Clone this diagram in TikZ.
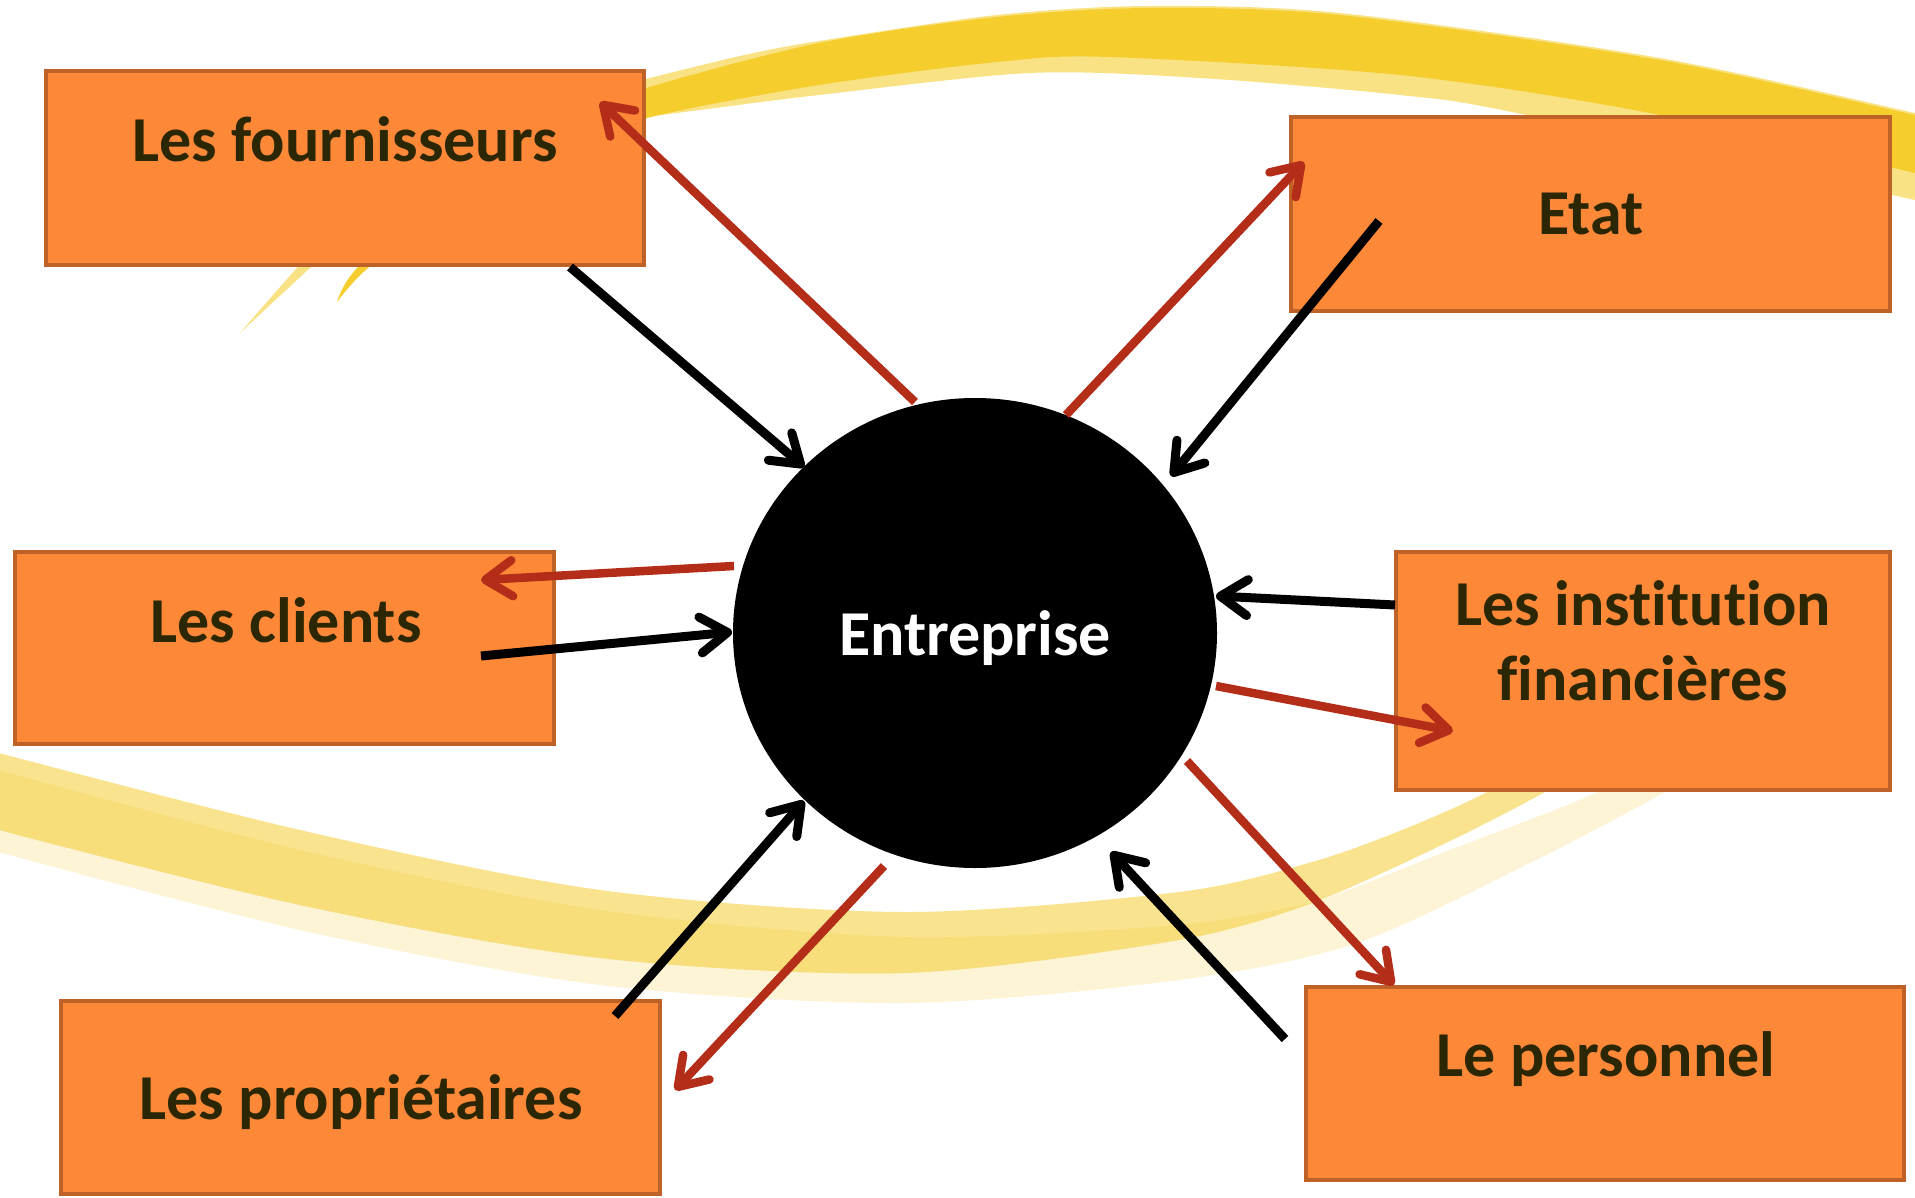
\documentclass[tikz,border=0pt]{standalone}
\usepackage{fontspec}
\setmainfont{Carlito}[Ligatures={NoCommon,NoContextual}]
\usetikzlibrary{arrows.meta,shapes.geometric}
\definecolor{boxfill}{RGB}{253,136,56}
\definecolor{boxline}{RGB}{190,98,40}
\definecolor{txt}{RGB}{43,38,3}
\definecolor{redarrow}{RGB}{180,45,25}
\definecolor{ydark}{RGB}{245,206,46}
\definecolor{ylight}{RGB}{249,226,131}
\definecolor{bandlight}{RGB}{249,227,142}
\definecolor{bandmed}{RGB}{247,222,122}
\definecolor{bandvlight}{RGB}{253,244,213}
\begin{document}
\begin{tikzpicture}[x=1pt,y=-1pt,
  actor/.style={draw=boxline, fill=boxfill, line width=4.5pt, rectangle, inner sep=0pt},
  lbl/.style={text=txt, font=\fontsize{64}{70}\selectfont\bfseries, anchor=base, inner sep=0pt},
  inarrow/.style={draw=black, line width=9pt, -{Straight Barb[length=27pt,width=36pt,round]}},
  outarrow/.style={draw=redarrow, line width=8.5pt, -{Straight Barb[length=27pt,width=36pt,round]}},
]
\useasboundingbox (0,0) rectangle (1915,1198);
\fill[white] (0,0) rectangle (1915,1198);

% ---------- background ribbons ----------
\begin{scope}
\clip (0,0) rectangle (1915,1198);
% top ribbon: light band under the dark band
\fill[ylight] plot[smooth] coordinates {(646,79) (740,56) (819,41) (997,15) (1149,6) (1340,13) (1660,58) (1915,113) (1945,120)}
  -- plot[smooth] coordinates {(1945,207) (1915,200) (1517,113) (1400,95) (1200,78) (1030,73) (819,95) (700,110) (646,117)} -- cycle;
% top ribbon: dark band
\fill[ydark] plot[smooth] coordinates {(337,302) (357,268) (450,180) (560,120) (646,88) (819,43) (997,17) (1149,8) (1340,15) (1660,60) (1915,115) (1945,121)}
  -- plot[smooth] coordinates {(1945,179) (1915,173) (1650,113) (1400,75) (1109,57) (997,62) (819,85) (647,118) (560,152) (450,208) (368,268) (337,302)} -- cycle;
% top ribbon: light tail
\fill[ylight] plot[smooth] coordinates {(240,333) (297,268) (340,225)}
  -- plot[smooth] coordinates {(355,228) (310,268) (240,333)} -- cycle;

% bottom ribbon: very light band
\fill[bandvlight] plot[smooth] coordinates {(-20,825) (300,905) (600,958) (904,973) (1179,940) (1312,903) (1450,850) (1598,792) (1660,752)}
  -- plot[smooth] coordinates {(1730,752) (1665,792) (1536,860) (1357,943) (1179,980) (904,1003) (600,985) (300,930) (-20,847)} -- cycle;
% bottom ribbon: light band
\fill[bandlight] plot[smooth] coordinates {(-20,748) (300,830) (600,890) (904,912) (1179,892) (1312,862) (1402,830) (1487,792) (1545,752)}
  -- plot[smooth] coordinates {(1610,752) (1545,792) (1446,843) (1312,903) (1179,940) (904,973) (600,958) (300,905) (-20,825)} -- cycle;
% bottom ribbon: medium band
\fill[bandmed] plot[smooth] coordinates {(-20,765) (300,850) (600,910) (904,937) (1179,925) (1312,903)}
  -- plot[smooth] coordinates {(1312,903) (1179,940) (904,973) (600,958) (300,905) (-20,825)} -- cycle;
\end{scope}

% ---------- boxes ----------
\node[actor, minimum width=598pt, minimum height=194pt] (fourn) at (345,168) {};
\node[actor, minimum width=599pt, minimum height=194pt] (etat) at (1590.5,214) {};
\node[actor, minimum width=539pt, minimum height=192pt] (clients) at (284.5,648) {};
\node[actor, minimum width=494pt, minimum height=238pt] (instit) at (1643,671) {};
\node[actor, minimum width=599pt, minimum height=193pt] (propr) at (360.5,1097.5) {};
\node[actor, minimum width=598pt, minimum height=193pt] (pers) at (1605,1083.5) {};

\node[lbl] (fournT) at (345,162) {Les fournisseurs};
\node[lbl] (etatT) at (1591,235) {Etat};
\node[lbl] (clientsT) at (286,642) {Les clients};
\node[lbl] (institT) at (1643,625) {Les institution};
\node[lbl] (institT2) at (1643,700) {financières};
\node[lbl] (proprT) at (361,1119) {Les propriétaires};
\node[lbl] (persT) at (1606,1076) {Le personnel};

% ---------- centre ----------
\node[ellipse, fill=black, minimum width=484pt, minimum height=470pt, inner sep=0pt] (ent) at (975,633) {};
\node[lbl, text=white] (entT) at (975,655) {Entreprise};

% ---------- connector end points ----------
\coordinate (bF1) at (570,267);  \coordinate (bF2) at (804,467);
\coordinate (bE1) at (1379,221); \coordinate (bE2) at (1171,476);
\coordinate (bC1) at (481,656);  \coordinate (bC2) at (732,632);
\coordinate (bI1) at (1395,605); \coordinate (bI2) at (1216,596);
\coordinate (bP1) at (615,1016); \coordinate (bP2) at (804,801);
\coordinate (bS1) at (1285,1039);\coordinate (bS2) at (1111,852);

\coordinate (rF1) at (915,402);  \coordinate (rF2) at (600,102);
\coordinate (rE1) at (1066,415); \coordinate (rE2) at (1304,162);
\coordinate (rC1) at (734,566);  \coordinate (rC2) at (481,580);
\coordinate (rI1) at (1216,686); \coordinate (rI2) at (1453,731);
\coordinate (rP1) at (884,866);  \coordinate (rP2) at (675,1090);
\coordinate (rS1) at (1187,761); \coordinate (rS2) at (1394,985);

% ---------- arrows ----------
\draw[inarrow] (bF1) -- (bF2);
\draw[inarrow] (bE1) -- (bE2);
\draw[inarrow] (bC1) -- (bC2);
\draw[inarrow] (bI1) -- (bI2);
\draw[inarrow] (bP1) -- (bP2);
\draw[inarrow] (bS1) -- (bS2);

\draw[outarrow] (rF1) -- (rF2);
\draw[outarrow] (rE1) -- (rE2);
\draw[outarrow] (rC1) -- (rC2);
\draw[outarrow] (rI1) -- (rI2);
\draw[outarrow] (rP1) -- (rP2);
\draw[outarrow] (rS1) -- (rS2);
\end{tikzpicture}
\end{document}
